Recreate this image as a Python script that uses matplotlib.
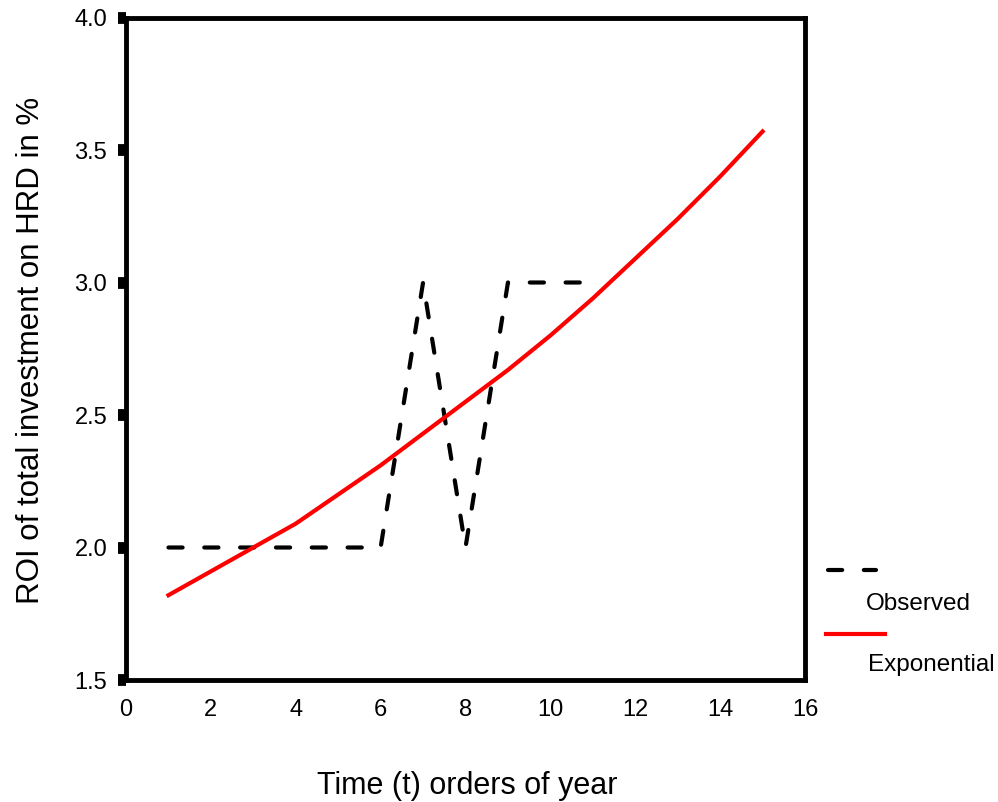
import matplotlib
matplotlib.use("Agg")
import matplotlib.pyplot as plt
from matplotlib.lines import Line2D

plt.rcParams['font.family'] = ['Liberation Sans', 'DejaVu Sans']

# Observed ROI values (t = 1..11)
t_obs = [1, 2, 3, 4, 5, 6, 7, 8, 9, 10, 11]
roi_obs = [2.0, 2.0, 2.0, 2.0, 2.0, 2.0, 3.0, 2.0, 3.0, 3.0, 3.0]

# Exponential fit (t = 1..15)
t_fit = [1, 2, 3, 4, 5, 6, 7, 8, 9, 10, 11, 12, 13, 14, 15]
roi_fit = [1.82, 1.91, 2.00, 2.09, 2.20, 2.31, 2.43, 2.55, 2.67,
           2.80, 2.94, 3.09, 3.24, 3.40, 3.57]

xticks = [0, 2, 4, 6, 8, 10, 12, 14, 16]
yticks = [1.5, 2.0, 2.5, 3.0, 3.5, 4.0]

W, H = 998, 802
fig = plt.figure(figsize=(W / 100, H / 100), dpi=100)
ax = fig.add_axes([126 / W, 1 - 680 / H, (805 - 126) / W, (680 - 17.5) / H])

dash = (0, (3.4, 5.2))
ax.plot(t_obs, roi_obs, color='black', lw=3, linestyle=dash,
        dash_capstyle='round')
ax.plot(t_fit, roi_fit, color='#ff0000', lw=3)

ax.set_xlim(0, 16)
ax.set_ylim(1.5, 4.0)
ax.set_xticks(xticks)
ax.set_yticks(yticks)
ax.set_yticklabels([f"{v:.1f}" for v in yticks])
for s in ax.spines.values():
    s.set_linewidth(3.5)
ax.tick_params(axis='x', length=0, pad=14, labelsize=17)
ax.tick_params(axis='y', direction='out', length=5.5, width=8.5, pad=8, labelsize=17)

ax.set_xlabel("Time (t) orders of year", fontsize=22)
ax.set_ylabel("ROI of total investment on HRD in %", fontsize=22.5)
ax.xaxis.set_label_coords(0.503, -0.137)
ax.yaxis.set_label_coords(-0.118, 0.498)

# legend drawn outside the axes, label under each sample
def px(x, y):
    return x / W, 1 - y / H

fig.add_artist(Line2D([px(828, 0)[0], px(876, 0)[0]], [px(0, 570)[1]] * 2,
                      transform=fig.transFigure, color='black', lw=3,
                      linestyle=dash, dash_capstyle='round'))
fig.text(*px(866, 604), "Observed", fontsize=17.5, va='center', ha='left')
fig.add_artist(Line2D([px(826, 0)[0], px(885, 0)[0]], [px(0, 634)[1]] * 2,
                      transform=fig.transFigure, color='#ff0000', lw=3))
fig.text(*px(868, 665), "Exponential", fontsize=17.5, va='center', ha='left')

fig.savefig("out.png", dpi=100)
